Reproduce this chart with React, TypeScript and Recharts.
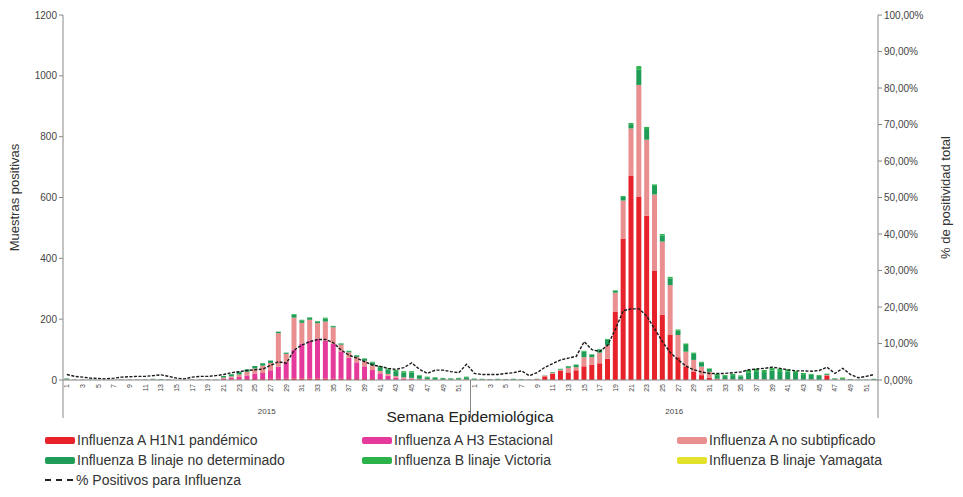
import { Bar, ComposedChart, Line, XAxis, YAxis } from 'recharts'

const years = [2015, 2016]
const weeksPerYear = 52

// muestras positivas por semana (2015 sem 1-52, luego 2016 sem 1-52)
const h1n1 = [
  0, 0, 0, 0, 0, 0, 0, 0, 0, 0, 0, 0, 0, 0, 0, 0, 0, 0, 0, 0,
  0, 2, 2, 3, 3, 3, 4, 4, 4, 5, 5, 5, 5, 5, 4, 4, 3, 3, 3, 3, 2, 2, 2, 1, 1, 0, 0, 0, 0, 0, 0, 1,
  0, 0, 0, 0, 0, 0, 0, 0, 2, 12, 20, 30, 25, 32, 45, 50, 55, 70,
  225, 465, 672, 603, 540, 360, 215, 148, 75, 45, 28, 16, 8,
  2, 1, 1, 1, 1, 1, 1, 0, 0, 1, 0, 0, 1, 0, 15, 1, 0, 0, 0, 0, 0,
]
const h3 = [
  0, 0, 0, 0, 0, 0, 0, 0, 0, 0, 0, 0, 0, 0, 0, 0, 0, 0, 0, 0,
  3, 5, 8, 12, 18, 20, 28, 40, 55, 95, 115, 125, 130, 125, 115, 90, 70, 55, 42, 30, 20, 12, 6, 4, 3, 2, 1, 0, 0, 0, 0, 0,
  0, 0, 0, 0, 0, 0, 0, 0, 0, 0, 0, 0, 0, 0, 0, 0, 0, 0,
  0, 0, 0, 0, 0, 0, 0, 0, 0, 0, 0, 0, 0,
  0, 0, 0, 0, 0, 0, 0, 0, 0, 0, 0, 0, 0, 0, 0, 0, 0, 0, 0, 0, 0,
]
const aNoSub = [
  2, 1, 1, 0, 0, 0, 1, 1, 1, 1, 1, 2, 1, 1, 0, 0, 1, 1, 1, 1,
  5, 5, 8, 12, 17, 24, 24, 110, 27, 105, 68, 68, 52, 62, 54, 22, 18, 18, 18, 15, 8, 6, 5, 4, 3, 2, 2, 1, 1, 1, 1, 1,
  1, 1, 1, 1, 1, 1, 1, 1, 1, 2, 3, 4, 15, 10, 30, 25, 35, 45,
  62, 125, 155, 367, 250, 250, 240, 164, 73, 48, 38, 28, 19,
  2, 2, 1, 1, 2, 2, 1, 1, 1, 1, 1, 1, 1, 1, 2, 1, 1, 0, 0, 0, 1,
]
const bNoDet = [
  3, 1, 1, 1, 0, 0, 0, 1, 1, 1, 1, 2, 2, 1, 0, 0, 1, 1, 1, 1,
  5, 7, 9, 8, 8, 8, 8, 5, 4, 10, 8, 6, 5, 10, 4, 4, 4, 5, 6, 10, 12, 14, 16, 15, 18, 10, 6, 6, 5, 4, 5, 7,
  3, 2, 2, 2, 2, 2, 2, 1, 1, 1, 2, 2, 5, 8, 18, 8, 10, 17,
  6, 12, 14, 50, 35, 28, 20, 22, 14, 22, 20, 14, 9,
  12, 10, 14, 10, 22, 26, 24, 30, 28, 26, 22, 18, 15, 12, 3, 3, 5, 2, 1, 1, 2,
]
const bVictoria = [
  0, 0, 0, 0, 0, 0, 0, 0, 0, 0, 0, 0, 0, 0, 0, 0, 0, 0, 0, 0,
  0, 0, 0, 0, 0, 0, 0, 0, 0, 2, 2, 2, 2, 3, 1, 1, 1, 1, 2, 2, 4, 4, 4, 5, 4, 2, 2, 2, 1, 1, 1, 2,
  1, 1, 0, 1, 0, 1, 0, 0, 0, 0, 1, 1, 1, 1, 3, 2, 2, 3,
  2, 3, 4, 12, 7, 5, 5, 5, 4, 5, 4, 2, 2,
  4, 3, 4, 3, 8, 8, 7, 8, 8, 7, 6, 4, 3, 3, 1, 1, 2, 1, 0, 0, 1,
]
const bYamagata = [
  0, 0, 0, 0, 0, 0, 0, 0, 0, 0, 0, 0, 0, 0, 0, 0, 0, 0, 0, 0,
  0, 0, 0, 0, 0, 0, 0, 0, 0, 0, 0, 0, 0, 0, 0, 0, 0, 0, 0, 0, 0, 0, 0, 0, 0, 0, 0, 0, 0, 0, 0, 0,
  0, 0, 0, 0, 0, 0, 0, 0, 0, 0, 0, 0, 0, 0, 0, 0, 0, 0,
  0, 0, 0, 0, 0, 0, 0, 0, 0, 0, 0, 0, 0,
  0, 0, 0, 0, 0, 0, 0, 0, 0, 0, 0, 0, 0, 0, 0, 0, 1, 0, 0, 0, 0,
]
// % positivos para influenza
const pctPositivos = [
  1.5, 1.0, 0.8, 0.5, 0.4, 0.3, 0.5, 0.8, 0.9, 1.0, 1.0, 1.2, 1.4, 1.0, 0.5, 0.3, 0.8, 1.0, 1.0, 1.2,
  1.5, 2.0, 2.3, 2.6, 2.8, 3.0, 4.0, 5.0, 4.6, 8.2, 9.6, 10.5, 11.1, 11.1, 10.2, 8.2, 6.8, 6.0, 5.0, 4.1,
  3.7, 3.2, 2.9, 3.4, 4.7, 2.9, 1.8, 2.7, 2.7, 2.3, 2.0, 4.3,
  1.8, 1.5, 1.5, 1.5, 1.8, 2.0, 2.5, 1.2, 2.0, 3.5, 4.5, 5.5, 6.0, 6.5, 10.5, 8.3, 7.8, 9.5,
  14.0, 19.0, 19.5, 19.5, 17.5, 14.0, 10.5, 7.5, 5.5, 3.8, 2.8, 2.2, 1.8,
  1.8, 1.8, 2.0, 2.2, 2.8, 3.0, 3.2, 3.5, 3.2, 2.8, 2.5, 2.5, 2.4, 2.6, 3.5, 1.8, 3.2, 1.5, 0.6, 1.0, 1.5,
]

const leftTicks = [0, 200, 400, 600, 800, 1000, 1200]
const rightTicks = [0, 10, 20, 30, 40, 50, 60, 70, 80, 90, 100]

const series = [
  { key: 'h1n1', name: 'Influenza A H1N1 pandémico', color: '#e8222b' },
  { key: 'h3', name: 'Influenza A H3 Estacional', color: '#e5399c' },
  { key: 'aNoSub', name: 'Influenza A no subtipficado', color: '#e98f8f' },
  { key: 'bNoDet', name: 'Influenza B linaje no determinado', color: '#1f9d58' },
  { key: 'bVictoria', name: 'Influenza B linaje Victoria', color: '#2cb24b' },
  { key: 'bYamagata', name: 'Influenza B linaje Yamagata', color: '#e2e22c' },
]

const data = years.flatMap((yr, yi) =>
  Array.from({ length: weeksPerYear }, (_, wi) => {
    const i = yi * weeksPerYear + wi
    return {
      key: `${yr}-${wi + 1}`,
      h1n1: h1n1[i],
      h3: h3[i],
      aNoSub: aNoSub[i],
      bNoDet: bNoDet[i],
      bVictoria: bVictoria[i],
      bYamagata: bYamagata[i],
      pct: pctPositivos[i],
    }
  })
)

const W = 963
const CH = 425
const M = { top: 15, right: 0, left: 0, bottom: 0 }
const LEFT_W = 63
const RIGHT_W = 85
const PLOT_BOTTOM = 380
const STEP = (W - LEFT_W - RIGHT_W) / data.length
const LAST_YEAR = years[years.length - 1]

function WeekTick(props: any) {
  const { x, y, payload } = props
  const w = Number(String(payload.value).split('-')[1])
  if (w % 2 === 0) return <g />
  const ty = y - 4
  return (
    <text
      x={x}
      y={ty}
      transform={`rotate(-90 ${x} ${ty})`}
      textAnchor="end"
      dy="0.35em"
      fontSize={7}
      fill="#444"
    >
      {w}
    </text>
  )
}

// fila de años con separadores verticales
function YearTick(props: any) {
  const { x, payload } = props
  const [yr, wk] = String(payload.value).split('-').map(Number)
  const parts = []
  if (wk === 1) {
    parts.push(<line key="l" x1={x - STEP / 2} x2={x - STEP / 2} y1={PLOT_BOTTOM} y2={418} stroke="#888" />)
  }
  if (yr === LAST_YEAR && wk === weeksPerYear) {
    parts.push(<line key="r" x1={x + STEP / 2} x2={x + STEP / 2} y1={PLOT_BOTTOM} y2={418} stroke="#888" />)
  }
  if (wk === 27) {
    parts.push(
      <text key="t" x={x - STEP / 2} y={414} textAnchor="middle" fontSize={8} fill="#444">
        {yr}
      </text>
    )
  }
  return <g>{parts}</g>
}

const legendRows = [
  [series[0], series[1], series[2]],
  [series[3], series[4], series[5]],
]
const legendCols = [45, 362, 677]

export default function App() {
  return (
    <div
      style={{
        position: 'absolute',
        left: 0,
        top: 0,
        width: W,
        height: 497,
        background: '#fff',
        fontFamily: '"Liberation Sans", Arial, sans-serif',
        color: '#333',
      }}
    >
      <ComposedChart width={W} height={CH} data={data} margin={M} barCategoryGap="16%">
        <XAxis
          dataKey="key"
          interval={0}
          height={22}
          tick={<WeekTick />}
          tickLine={false}
          axisLine={{ stroke: '#888' }}
        />
        <XAxis
          xAxisId="year"
          dataKey="key"
          interval={0}
          height={CH - M.top - 365 - 22}
          tick={<YearTick />}
          tickLine={false}
          axisLine={false}
        />
        <YAxis
          yAxisId="n"
          width={LEFT_W}
          domain={[0, 1200]}
          ticks={leftTicks}
          tick={{ fontSize: 10, fill: '#444' }}
          tickSize={4}
          tickLine={{ stroke: '#888' }}
          axisLine={{ stroke: '#888' }}
          label={{
            value: 'Muestras positivas',
            angle: -90,
            position: 'insideLeft',
            offset: 14,
            style: { fontSize: 13, fill: '#333', textAnchor: 'middle' },
          }}
        />
        <YAxis
          yAxisId="pct"
          orientation="right"
          width={RIGHT_W}
          domain={[0, 100]}
          ticks={rightTicks}
          tickFormatter={(v: number) => `${v},00%`}
          tick={{ fontSize: 10, fill: '#444' }}
          tickSize={4}
          tickLine={{ stroke: '#888' }}
          axisLine={{ stroke: '#888' }}
          label={{
            value: '% de positividad total',
            angle: -90,
            position: 'insideRight',
            offset: 18,
            style: { fontSize: 13, fill: '#333', textAnchor: 'middle' },
          }}
        />
        {series.map(s => (
          <Bar
            key={s.key}
            yAxisId="n"
            dataKey={s.key}
            name={s.name}
            stackId="a"
            fill={s.color}
            isAnimationActive={false}
          />
        ))}
        <Line
          yAxisId="pct"
          type="linear"
          dataKey="pct"
          stroke="#1a1a1a"
          strokeWidth={1.4}
          strokeDasharray="3 1.5"
          dot={false}
          isAnimationActive={false}
        />
      </ComposedChart>
      <div
        style={{
          position: 'absolute',
          left: 370,
          width: 200,
          top: 408,
          textAlign: 'center',
          fontSize: 15.5,
          color: '#222',
        }}
      >
        Semana Epidemiológica
      </div>
      {legendRows.map((row, ri) =>
        row.map((s, ci) => (
          <div
            key={s.key}
            style={{
              position: 'absolute',
              left: legendCols[ci],
              top: 432 + ri * 20,
              display: 'flex',
              alignItems: 'center',
              fontSize: 14,
              color: '#333',
              whiteSpace: 'nowrap',
            }}
          >
            <span style={{ width: 30, height: 7, background: s.color, borderRadius: 2, marginRight: 2 }} />
            {s.name}
          </div>
        ))
      )}
      <div
        style={{
          position: 'absolute',
          left: 45,
          top: 472,
          display: 'flex',
          alignItems: 'center',
          fontSize: 14,
          color: '#333',
          whiteSpace: 'nowrap',
        }}
      >
        <span style={{ width: 28, borderTop: '2px dashed #222', marginRight: 3 }} />
        % Positivos para Influenza
      </div>
    </div>
  )
}
